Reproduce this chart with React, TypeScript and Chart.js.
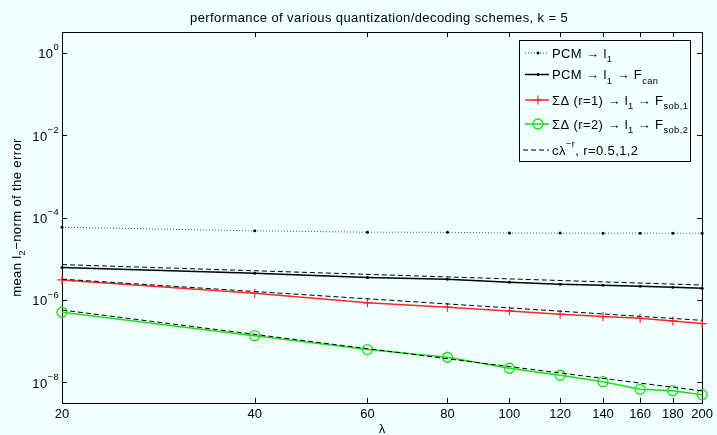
import React, { useEffect, useRef } from "react";
import { Chart, registerables } from "chart.js";

Chart.register(...registerables);

// ---- data ----
const lambdas = [20, 40, 60, 80, 100, 120, 140, 160, 180, 200];
const pcmL1 = [5.8e-5, 4.74e-5, 4.4e-5, 4.38e-5, 4.2e-5, 4.18e-5, 4.17e-5, 4.16e-5, 4.15e-5, 4.15e-5];
const pcmL1Fcan = [6.1e-6, 4.46e-6, 3.48e-6, 3.18e-6, 2.7e-6, 2.41e-6, 2.28e-6, 2.16e-6, 2.04e-6, 1.93e-6];
const sigmaDelta1 = [3.06e-6, 1.46e-6, 8.5e-7, 6.67e-7, 5.42e-7, 4.5e-7, 3.94e-7, 3.6e-7, 3.1e-7, 2.67e-7];
const sigmaDelta2 = [5.03e-7, 1.36e-7, 6.24e-8, 4.07e-8, 2.2e-8, 1.49e-8, 1.04e-8, 6.8e-9, 6.3e-9, 5.03e-9];
const refLambda = [20, 200];
const refR05 = [7.2e-6, 2.3e-6];
const refR1 = [3.2e-6, 3.2e-7];
const refR2 = [5.7e-7, 6.2e-9];
const xTickValues = [20, 40, 60, 80, 100, 120, 140, 160, 180, 200];
const yTickExponents = [0, -2, -4, -6, -8];

const TITLE = "performance of various quantization/decoding schemes, k = 5";
const BG = "#f0ffff";
const RED = "rgb(255,40,40)";
const GREEN = "rgb(25,225,25)";
const FONT = '"Liberation Sans", Arial, Helvetica, sans-serif';

type Seg = { t: string; k?: "sub" | "sup" };

function drawRich(
  ctx: CanvasRenderingContext2D,
  segs: Seg[],
  x: number,
  y: number,
  size: number,
  align: "left" | "right" | "center" = "left"
) {
  const small = size * 0.72;
  (ctx as any).letterSpacing = "0.4px";
  const widths = segs.map((s) => {
    ctx.font = `${s.k ? small : size}px ${FONT}`;
    return ctx.measureText(s.t).width;
  });
  const total = widths.reduce((a, b) => a + b, 0);
  let cx = align === "right" ? x - total : align === "center" ? x - total / 2 : x;
  ctx.textAlign = "left";
  ctx.textBaseline = "alphabetic";
  ctx.fillStyle = "#000";
  segs.forEach((s, i) => {
    ctx.font = `${s.k ? small : size}px ${FONT}`;
    const dy = s.k === "sub" ? size * 0.36 : s.k === "sup" ? -size * 0.6 : 0;
    ctx.fillText(s.t, cx, y + dy);
    cx += widths[i];
  });
  (ctx as any).letterSpacing = "0px";
}

const pts = (xs: number[], ys: number[]) => xs.map((x, i) => ({ x, y: ys[i] }));

const decorPlugin = {
  id: "decor",
  beforeDraw(chart: any) {
    const ctx = chart.ctx as CanvasRenderingContext2D;
    ctx.save();
    ctx.fillStyle = BG;
    ctx.fillRect(0, 0, chart.width, chart.height);
    ctx.restore();
  },
  beforeDatasetsDraw(chart: any) {
    const ctx = chart.ctx as CanvasRenderingContext2D;
    const { left, right, top, bottom } = chart.chartArea;
    const xs = chart.scales.x;
    const ys = chart.scales.y;
    ctx.save();
    ctx.strokeStyle = "#000";
    ctx.lineWidth = 1;
    ctx.strokeRect(Math.round(left) + 0.5, Math.round(top) + 0.5, Math.round(right - left), Math.round(bottom - top));
    const tl = 5;
    ctx.beginPath();
    xTickValues.forEach((v) => {
      const px = Math.round(xs.getPixelForValue(v)) + 0.5;
      ctx.moveTo(px, bottom);
      ctx.lineTo(px, bottom - tl);
      ctx.moveTo(px, top);
      ctx.lineTo(px, top + tl);
    });
    yTickExponents.forEach((e) => {
      const py = Math.round(ys.getPixelForValue(Math.pow(10, e))) + 0.5;
      ctx.moveTo(left, py);
      ctx.lineTo(left + tl, py);
      ctx.moveTo(right, py);
      ctx.lineTo(right - tl, py);
    });
    ctx.stroke();
    ctx.restore();
  },
  afterDraw(chart: any) {
    const ctx = chart.ctx as CanvasRenderingContext2D;
    const { left, right, top, bottom } = chart.chartArea;
    const ys = chart.scales.y;
    ctx.save();
    // y tick labels 10^e
    yTickExponents.forEach((e) => {
      const py = ys.getPixelForValue(Math.pow(10, e));
      const ex = e === 0 ? "0" : "\u2212" + String(-e);
      drawRich(ctx, [{ t: "10" }, { t: ex, k: "sup" }], left - 3, py + 5.5, 13, "right");
    });
    // title
    drawRich(ctx, [{ t: TITLE }], (left + right) / 2 - 3, 22, 13, "center");
    // x title
    drawRich(ctx, [{ t: "\u03bb" }], (left + right) / 2, 433, 13, "center");
    // y title
    ctx.save();
    ctx.translate(16, (top + bottom) / 2);
    ctx.rotate(-Math.PI / 2);
    drawRich(ctx, [{ t: "mean l" }, { t: "2", k: "sub" }, { t: "\u2212norm of the error" }], 0, 4.7, 13, "center");
    ctx.restore();

    // legend
    const bx = 519.5, by = 40.5, bw = 171, bh = 121;
    ctx.fillStyle = BG;
    ctx.fillRect(bx, by, bw, bh);
    ctx.strokeStyle = "#000";
    ctx.lineWidth = 1;
    ctx.strokeRect(bx, by, bw, bh);
    const rows = [53, 74.5, 100, 124, 150];
    const lx0 = 525, lx1 = 549, mx = 538, tx = 552;
    const arrow = " \u2192 ";
    const items: { segs: Seg[]; draw: (y: number) => void }[] = [
      {
        segs: [{ t: "PCM" + arrow + "l" }, { t: "1", k: "sub" }],
        draw: (y) => {
          ctx.strokeStyle = "#444";
          ctx.lineWidth = 1;
          ctx.setLineDash([1, 2]);
          ctx.beginPath(); ctx.moveTo(lx0, y); ctx.lineTo(lx1, y); ctx.stroke();
          ctx.setLineDash([]);
          ctx.fillStyle = "#000";
          ctx.beginPath(); ctx.arc(mx, y, 1.5, 0, Math.PI * 2); ctx.fill();
        },
      },
      {
        segs: [{ t: "PCM" + arrow + "l" }, { t: "1", k: "sub" }, { t: arrow + "F" }, { t: "can", k: "sub" }],
        draw: (y) => {
          ctx.strokeStyle = "#000";
          ctx.lineWidth = 1.5;
          ctx.beginPath(); ctx.moveTo(lx0, y); ctx.lineTo(lx1, y); ctx.stroke();
          ctx.fillStyle = "#000";
          ctx.beginPath(); ctx.arc(mx, y, 1.5, 0, Math.PI * 2); ctx.fill();
        },
      },
      {
        segs: [{ t: "\u03a3\u0394 (r=1)" + arrow + "l" }, { t: "1", k: "sub" }, { t: arrow + "F" }, { t: "sob,1", k: "sub" }],
        draw: (y) => {
          ctx.strokeStyle = RED;
          ctx.lineWidth = 1.5;
          ctx.beginPath(); ctx.moveTo(lx0, y); ctx.lineTo(lx1, y); ctx.stroke();
          ctx.lineWidth = 1.2;
          ctx.beginPath(); ctx.moveTo(mx, y - 4.5); ctx.lineTo(mx, y + 4.5); ctx.moveTo(mx - 4.5, y); ctx.lineTo(mx + 4.5, y); ctx.stroke();
        },
      },
      {
        segs: [{ t: "\u03a3\u0394 (r=2)" + arrow + "l" }, { t: "1", k: "sub" }, { t: arrow + "F" }, { t: "sob,2", k: "sub" }],
        draw: (y) => {
          ctx.strokeStyle = GREEN;
          ctx.lineWidth = 1.5;
          ctx.beginPath(); ctx.moveTo(lx0, y); ctx.lineTo(lx1, y); ctx.stroke();
          ctx.lineWidth = 1.3;
          ctx.beginPath(); ctx.arc(mx, y, 5, 0, Math.PI * 2); ctx.stroke();
        },
      },
      {
        segs: [{ t: "c\u03bb" }, { t: "\u2212r", k: "sup" }, { t: ", r=0.5,1,2" }],
        draw: (y) => {
          ctx.strokeStyle = "#000";
          ctx.lineWidth = 1;
          ctx.setLineDash([5, 3]);
          ctx.beginPath(); ctx.moveTo(lx0 - 2, y); ctx.lineTo(lx1, y); ctx.stroke();
          ctx.setLineDash([]);
        },
      },
    ];
    items.forEach((it, i) => {
      const y = rows[i];
      ctx.save();
      it.draw(y);
      ctx.restore();
      drawRich(ctx, it.segs, tx, y + 4.5, 13, "left");
    });
    ctx.restore();
  },
};

export default function App() {
  const canvasRef = useRef<HTMLCanvasElement | null>(null);

  useEffect(() => {
    document.body.style.margin = "0";
    document.body.style.background = BG;
    const canvas = canvasRef.current;
    if (!canvas) return;
    const chart = new Chart(canvas, {
      type: "line",
      data: {
        datasets: [
          {
            label: "PCM → l1",
            data: pts(lambdas, pcmL1),
            borderColor: "#555",
            borderWidth: 1,
            borderDash: [1, 2],
            pointRadius: 1.5,
            pointBackgroundColor: "#000",
            pointBorderColor: "#000",
            pointBorderWidth: 0,
            clip: false,
          },
          {
            label: "PCM → l1 → Fcan",
            data: pts(lambdas, pcmL1Fcan),
            borderColor: "#000",
            borderWidth: 1.5,
            pointRadius: 1.5,
            pointBackgroundColor: "#000",
            pointBorderColor: "#000",
            pointBorderWidth: 0,
            clip: false,
          },
          {
            label: "ref r=0.5",
            data: pts(refLambda, refR05),
            borderColor: "#000",
            borderWidth: 1,
            borderDash: [5, 3],
            pointRadius: 0,
            clip: false,
          },
          {
            label: "ref r=1",
            data: pts(refLambda, refR1),
            borderColor: "#000",
            borderWidth: 1,
            borderDash: [5, 3],
            pointRadius: 0,
            clip: false,
          },
          {
            label: "ref r=2",
            data: pts(refLambda, refR2),
            borderColor: "#000",
            borderWidth: 1,
            borderDash: [5, 3],
            pointRadius: 0,
            clip: false,
          },
          {
            label: "ΣΔ (r=1) → l1 → Fsob,1",
            data: pts(lambdas, sigmaDelta1),
            borderColor: RED,
            borderWidth: 1.5,
            pointStyle: "cross",
            pointRadius: 4.5,
            pointBorderColor: RED,
            pointBorderWidth: 1.2,
            clip: false,
          },
          {
            label: "ΣΔ (r=2) → l1 → Fsob,2",
            data: pts(lambdas, sigmaDelta2),
            borderColor: GREEN,
            borderWidth: 1.5,
            pointStyle: "circle",
            pointRadius: 5,
            pointBackgroundColor: "rgba(0,0,0,0)",
            pointBorderColor: GREEN,
            pointBorderWidth: 1.3,
            clip: false,
          },
        ],
      },
      options: {
        animation: false,
        responsive: true,
        maintainAspectRatio: false,
        layout: { padding: { left: 62, top: 32, right: 13, bottom: 0 } },
        plugins: { legend: { display: false }, tooltip: { enabled: false }, title: { display: false } },
        elements: { line: { tension: 0 } },
        scales: {
          x: {
            type: "logarithmic",
            min: 20,
            max: 200,
            grid: { display: false, drawTicks: false },
            border: { display: false },
            ticks: {
              color: "#000",
              font: { family: FONT, size: 13 },
              padding: 4,
              autoSkip: false,
              maxRotation: 0,
              minRotation: 0,
              callback: (v: any) => String(v),
            },
            afterBuildTicks: (s: any) => {
              s.ticks = xTickValues.map((v) => ({ value: v }));
            },
            afterFit: (s: any) => {
              s.height = 32;
            },
          },
          y: {
            type: "logarithmic",
            min: Math.pow(10, -8.5),
            max: Math.pow(10, 0.5),
            display: false,
          },
        },
      },
      plugins: [decorPlugin],
    } as any);
    return () => chart.destroy();
  }, []);

  return (
    <div style={{ width: 717, height: 435, position: "relative", background: BG }}>
      <canvas ref={canvasRef} />
    </div>
  );
}
